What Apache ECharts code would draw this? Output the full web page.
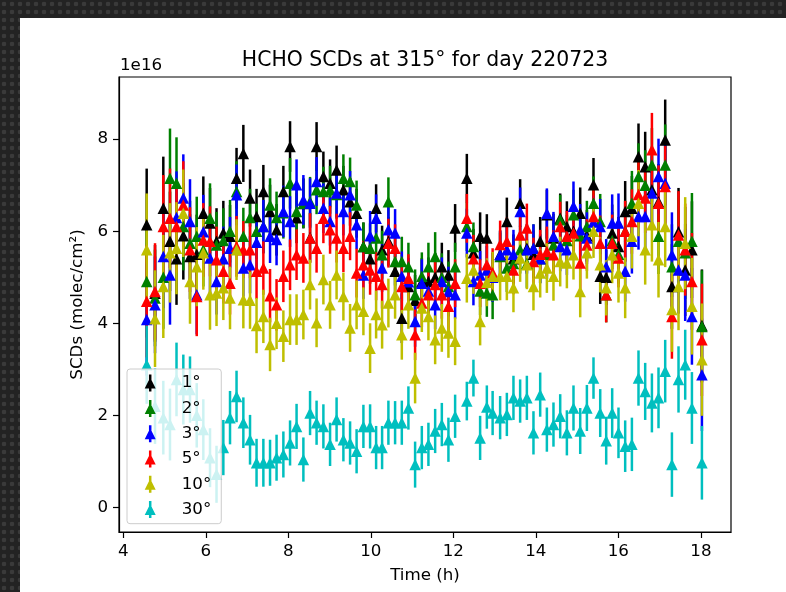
<!DOCTYPE html>
<html>
<head>
<meta charset="utf-8">
<script src="https://cdn.jsdelivr.net/npm/echarts@6/dist/echarts.min.js"></script>
<style>
  html, body { margin: 0; padding: 0; width: 786px; height: 592px; overflow: hidden; }
  body {
    background-color: #232323;
    background-image: radial-gradient(circle at 50% 50%, #3a3a3a 0, #3a3a3a 2px, rgba(0,0,0,0) 2.6px);
    background-size: 8px 8px;
  }
  #chart { position: absolute; left: 20px; top: 18px; width: 766px; height: 574px; background: #ffffff; }
</style>
</head>
<body>
<div id="chart"></div>
<script>
// Scan times (hours, local) for the 315° azimuth sequence on 220723
const times = [4.567,4.769,4.970,5.132,5.290,5.455,5.617,5.780,5.940,6.102,
  6.260,6.425,6.587,6.745,6.910,7.072,7.230,7.395,7.557,7.715,
  7.880,8.042,8.200,8.365,8.527,8.685,8.850,9.012,9.170,9.335,
  9.497,9.655,9.820,9.982,10.128,10.273,10.426,10.588,10.751,10.911,
  11.073,11.236,11.396,11.559,11.721,11.881,12.043,12.327,12.487,12.649,
  12.812,12.952,13.134,13.297,13.457,13.619,13.782,13.942,14.105,14.267,
  14.427,14.590,14.752,14.912,15.075,15.237,15.397,15.560,15.705,15.850,
  16.003,16.165,16.328,16.488,16.650,16.813,16.973,17.135,17.298,17.458,
  17.620,17.783,18.025];

// HCHO slant column densities, units of 1e16 molec/cm², one list per elevation angle
const scd1 = [6.14,4.65,6.50,5.78,5.40,5.90,5.45,5.50,6.39,6.18,
  5.78,5.96,5.89,7.15,7.69,6.72,6.32,6.86,6.43,6.03,
  6.86,7.84,6.29,6.60,5.86,7.84,7.19,7.04,7.33,6.90,
  6.64,6.39,5.67,5.40,6.50,5.60,5.78,5.13,4.11,4.80,
  4.50,4.90,4.91,5.00,5.23,5.05,6.07,7.15,5.53,5.89,
  5.85,5.00,5.50,6.21,5.40,6.61,5.63,5.50,5.78,6.36,
  5.85,6.28,6.10,6.00,6.39,5.90,7.01,5.02,5.00,5.96,
  5.67,6.43,6.50,7.62,7.40,6.90,6.64,7.98,4.80,5.99,
  5.16,5.60,3.95];
const scd2 = [4.91,4.55,5.00,7.15,7.04,6.10,5.74,5.89,5.60,6.28,
  5.70,5.80,6.00,6.86,5.89,6.30,6.00,6.10,6.57,6.30,
  6.40,7.04,6.43,6.61,6.64,6.90,6.86,6.90,6.80,7.15,
  7.08,6.57,5.67,5.63,5.85,5.49,6.64,5.34,5.34,5.23,
  4.62,5.02,5.23,5.45,5.00,4.80,5.23,6.10,5.67,4.70,
  4.66,4.62,5.45,5.20,5.30,5.60,5.30,5.63,5.40,5.50,
  5.70,6.25,5.80,6.36,5.90,6.10,6.61,6.21,4.62,5.80,
  5.50,6.00,6.61,7.19,7.00,7.44,5.89,7.44,5.23,5.78,
  5.53,5.78,3.93];
const scd3 = [4.08,4.40,5.45,5.05,6.30,6.72,6.21,4.62,5.99,5.42,
  4.91,5.40,5.63,6.79,5.20,5.27,5.76,6.10,5.89,5.82,
  6.43,6.21,7.01,6.68,6.61,7.08,6.50,6.21,6.83,6.43,
  6.79,6.14,5.05,5.90,6.28,5.20,6.03,5.96,5.02,4.90,
  4.04,4.87,4.70,4.40,4.91,4.69,4.62,5.96,4.91,5.05,
  5.16,5.00,5.49,5.60,5.50,6.43,5.60,5.63,5.40,6.39,
  5.89,5.67,5.60,6.54,6.03,5.85,6.20,6.10,5.23,6.18,
  6.18,5.13,5.78,6.32,6.32,6.83,7.19,7.04,5.49,5.16,
  5.05,4.15,2.88];
const scd5 = [4.48,4.69,6.10,6.28,6.10,6.57,5.60,4.58,5.81,5.78,
  5.38,5.13,4.87,5.67,5.60,5.60,5.13,5.20,4.60,4.40,
  5.02,5.27,5.49,5.42,5.85,5.63,6.28,6.03,5.85,5.63,
  5.89,5.09,5.27,5.16,5.02,4.84,5.74,5.63,4.80,4.98,
  3.75,4.44,4.62,4.84,4.62,4.37,4.87,6.28,5.40,4.87,
  5.27,5.10,5.71,5.78,5.16,5.92,6.07,5.34,5.50,5.56,
  5.49,6.10,5.89,5.96,5.31,5.70,6.32,5.74,4.62,5.74,
  5.42,6.00,6.21,6.80,6.72,7.77,6.61,6.97,4.15,5.92,
  5.60,4.91,3.64];
const scd10 = [5.60,4.10,4.80,5.53,5.63,6.39,4.91,5.23,5.53,4.62,
  4.66,4.77,4.55,5.60,4.51,4.50,3.95,4.15,3.54,4.00,
  3.72,4.08,4.08,4.19,4.84,4.01,4.95,4.40,5.05,4.58,
  3.90,4.40,4.26,3.46,4.19,3.97,4.44,4.62,3.75,4.40,
  2.81,4.33,4.15,3.64,3.90,3.79,3.61,4.98,5.16,4.04,
  4.89,5.02,5.02,5.02,4.77,5.42,5.27,4.80,5.09,5.20,
  5.02,5.34,5.31,5.49,4.69,5.53,6.00,5.27,4.77,5.49,
  5.09,4.77,5.89,6.61,5.60,6.14,5.38,6.10,4.30,4.80,
  5.74,4.37,3.21];
const scd30 = [3.10,2.20,1.95,1.80,2.78,2.56,2.56,2.00,1.69,1.08,
  0.72,1.30,1.95,2.41,1.84,1.47,0.97,0.97,0.97,1.08,
  1.15,1.40,1.76,1.04,2.05,1.84,1.76,1.37,1.91,1.47,
  1.40,1.22,1.76,1.76,1.30,1.30,1.84,1.84,1.84,2.16,
  0.93,1.30,1.37,1.66,1.80,1.47,1.98,2.31,2.81,1.51,
  2.18,2.05,1.95,2.02,2.38,2.31,2.38,1.62,2.45,1.69,
  1.80,1.98,1.62,2.16,1.66,2.16,2.81,2.05,1.45,2.05,
  1.62,1.33,1.37,2.81,2.52,2.27,2.38,2.96,0.93,2.78,
  3.10,2.16,0.97];

// Fit uncertainties (same units): low elevations share one list, 30° has its own
const errLow = [1.22,1.05,1.12,1.08,1.00,0.95,0.92,0.86,0.80,0.76,
  0.72,0.70,0.68,0.66,0.62,0.62,0.60,0.58,0.58,0.56,
  0.56,0.55,0.55,0.54,0.54,0.53,0.54,0.52,0.53,0.52,
  0.52,0.53,0.52,0.54,0.52,0.52,0.53,0.52,0.54,0.52,
  0.55,0.52,0.52,0.53,0.52,0.54,0.52,0.53,0.52,0.52,
  0.52,0.53,0.52,0.52,0.53,0.52,0.53,0.52,0.53,0.54,
  0.53,0.54,0.55,0.54,0.56,0.56,0.58,0.60,0.60,0.62,
  0.64,0.66,0.70,0.72,0.76,0.80,0.82,0.88,0.92,0.95,
  1.00,1.05,1.22];
const err30 = [0.85,0.82,0.80,0.78,0.80,0.76,0.72,0.70,0.66,0.64,
  0.62,0.60,0.58,0.56,0.55,0.54,0.52,0.52,0.50,0.50,
  0.50,0.49,0.49,0.48,0.48,0.48,0.48,0.47,0.48,0.47,
  0.47,0.48,0.47,0.48,0.47,0.47,0.48,0.47,0.48,0.47,
  0.50,0.47,0.47,0.48,0.47,0.48,0.47,0.42,0.40,0.48,
  0.47,0.48,0.47,0.47,0.48,0.47,0.48,0.47,0.48,0.48,
  0.48,0.48,0.49,0.49,0.50,0.50,0.45,0.52,0.52,0.54,
  0.55,0.56,0.58,0.60,0.62,0.64,0.66,0.68,0.70,0.72,
  0.76,0.78,0.80];

const angleLabels = ['1°', '2°', '3°', '5°', '10°', '30°'];
const xTicks = [4, 6, 8, 10, 12, 14, 16, 18];
const yTicks = [0, 2, 4, 6, 8];

const FONT = 'DejaVu Sans';
const palette = ['#000000', '#008000', '#0000ff', '#ff0000', '#bfbf00', '#00bfbf'];
const valueLists = [scd1, scd2, scd3, scd5, scd10, scd30];
const errLists = [errLow, errLow, errLow, errLow, errLow, err30];

// Legend handle: a vertical error bar with a triangle marker on it
const legendIcon = 'path://M4.25,0 L6.75,0 L6.75,17 L4.25,17 Z M5.5,3 L11,14 L0,14 Z';

const chart = echarts.init(document.getElementById('chart'), null, { renderer: 'canvas' });

// All error bars sit beneath all markers, series by series
const barSeries = angleLabels.map((name, k) => ({
  name,
  type: 'custom',
  z: 2,
  silent: true,
  itemStyle: { color: palette[k] },
  data: times.map((t, i) => [t, valueLists[k][i], errLists[k][i]]),
  renderItem: (params, api) => {
    const x = api.value(0), y = api.value(1), e = api.value(2);
    const p1 = api.coord([x, y + e]);
    const p2 = api.coord([x, y - e]);
    return {
      type: 'line',
      shape: { x1: p1[0], y1: p1[1], x2: p2[0], y2: p2[1] },
      style: { stroke: palette[k], lineWidth: 2.5 }
    };
  }
}));

const markerSeries = angleLabels.map((name, k) => ({
  name,
  type: 'scatter',
  z: 3,
  silent: true,
  symbol: 'triangle',
  symbolSize: 11.5,
  itemStyle: { color: palette[k], opacity: 1 },
  data: times.map((t, i) => [t, valueLists[k][i]])
}));

chart.setOption({
  animation: false,
  grid: { left: 99, top: 59, right: 55, bottom: 60, show: true, borderColor: '#000', borderWidth: 1.2, backgroundColor: 'transparent' },
  xAxis: {
    type: 'value', min: 3.896, max: 18.73,
    name: 'Time (h)', nameLocation: 'middle', nameGap: 35,
    nameTextStyle: { fontFamily: FONT, fontSize: 16.7, color: '#000' },
    axisLine: { show: true, onZero: false, lineStyle: { color: '#000', width: 1.2 } },
    axisTick: { show: true, length: 6, lineStyle: { color: '#000', width: 1.2 }, customValues: xTicks },
    axisLabel: { customValues: xTicks, fontFamily: FONT, fontSize: 16.7, color: '#000', margin: 11 },
    splitLine: { show: false }
  },
  yAxis: {
    type: 'value', min: -0.534, max: 9.35,
    name: 'SCDs (molec/cm²)', nameLocation: 'middle', nameGap: 29, nameRotate: 90,
    nameTextStyle: { fontFamily: FONT, fontSize: 16.7, color: '#000' },
    axisLine: { show: true, onZero: false, lineStyle: { color: '#000', width: 1.2 } },
    axisTick: { show: true, length: 6, lineStyle: { color: '#000', width: 1.2 }, customValues: yTicks },
    axisLabel: { customValues: yTicks, fontFamily: FONT, fontSize: 16.7, color: '#000', margin: 11 },
    splitLine: { show: false }
  },
  legend: {
    orient: 'vertical', left: 107, top: 351, z: 10,
    data: angleLabels.map(name => ({ name, icon: legendIcon })),
    itemWidth: 11, itemHeight: 17, itemGap: 8.3,
    padding: [5.6, 10, 5.6, 17.7],
    backgroundColor: 'rgba(255,255,255,0.8)', borderColor: '#cccccc', borderWidth: 1, borderRadius: 3,
    selectedMode: false,
    textStyle: { fontFamily: FONT, fontSize: 16.7, color: '#000', lineHeight: 17, padding: [0, 0, 0, 21] }
  },
  graphic: [
    { type: 'text', x: 405, y: 43, silent: true,
      style: { text: 'HCHO SCDs at 315° for day 220723', font: '20.4px "DejaVu Sans"', fill: '#000', textAlign: 'center', textVerticalAlign: 'middle' } },
    { type: 'text', x: 100, y: 56, silent: true,
      style: { text: '1e16', font: '16.7px "DejaVu Sans"', fill: '#000', textAlign: 'left', textVerticalAlign: 'bottom' } }
  ],
  series: barSeries.concat(markerSeries)
});
</script>
</body>
</html>
